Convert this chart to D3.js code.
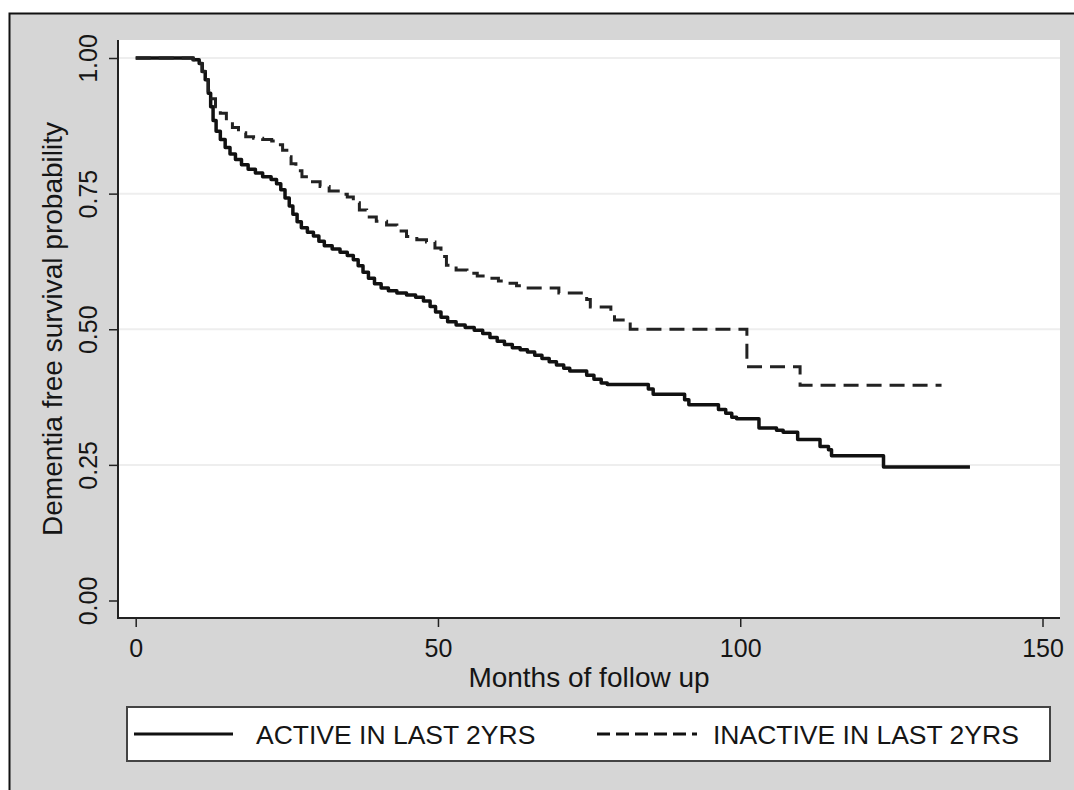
<!DOCTYPE html>
<meta charset="utf-8">
<style>
    body { margin: 0; background: #fff; }
    text { font-family: "Liberation Sans", Arial, Helvetica, sans-serif; fill: #151515; }
    .axis path { display: none; }
    .axis line { stroke: #222; stroke-width: 1.5; }
    .grid { stroke: #eeeeee; stroke-width: 2; }
</style>
<svg width="1074" height="790"></svg>
<script src="https://d3js.org/d3.v7.min.js"></script>
<script>

    // Kaplan-Meier step points: [month, survival]
    var active = [
        [0, 1.0], [9.5, 0.997], [10.5, 0.99], [11.0, 0.975], [11.5, 0.96], [12.0, 0.935],
        [12.4, 0.91], [12.8, 0.885], [13.3, 0.865], [14.0, 0.85], [14.8, 0.835], [15.6, 0.823],
        [16.5, 0.813], [17.5, 0.803], [18.6, 0.795], [19.8, 0.788], [21.0, 0.781], [22.4, 0.776],
        [23.3, 0.768], [24.0, 0.757], [24.7, 0.742], [25.4, 0.727], [26.0, 0.712], [26.7, 0.698],
        [27.4, 0.687], [28.4, 0.679], [29.4, 0.672], [30.3, 0.662], [31.2, 0.654], [32.5, 0.648],
        [33.8, 0.642], [35.0, 0.636], [36.0, 0.628], [36.8, 0.617], [37.6, 0.605], [38.5, 0.594],
        [39.5, 0.584], [40.6, 0.576], [41.8, 0.571], [43.2, 0.567], [44.8, 0.563], [46.3, 0.559],
        [47.6, 0.552], [48.7, 0.542], [49.6, 0.532], [50.5, 0.522], [51.6, 0.514], [53.0, 0.508],
        [54.5, 0.503], [56.0, 0.498], [57.4, 0.492], [58.6, 0.485], [59.8, 0.478], [61.0, 0.472],
        [62.3, 0.466], [63.6, 0.462], [64.8, 0.458], [66.0, 0.452], [67.2, 0.446], [68.4, 0.44],
        [69.6, 0.434], [70.8, 0.428], [71.8, 0.423], [74.6, 0.415], [75.8, 0.408], [77.0, 0.401],
        [78.0, 0.398], [84.8, 0.39], [85.6, 0.38], [90.8, 0.37], [91.5, 0.361], [96.4, 0.352],
        [97.6, 0.345], [98.6, 0.338], [99.4, 0.335], [103.1, 0.318], [106.0, 0.314], [107.1, 0.31],
        [109.5, 0.297], [113.2, 0.284], [114.6, 0.278], [115.1, 0.267], [123.7, 0.246], [138.0, 0.246]
    ];

    var inactive = [
        [0, 1.0], [9.5, 0.997], [10.5, 0.99], [11.0, 0.975], [11.5, 0.96], [12.0, 0.94],
        [12.5, 0.925], [13.2, 0.91], [14.0, 0.898], [15.0, 0.885], [16.0, 0.872], [17.0, 0.862],
        [18.2, 0.855], [19.5, 0.852], [21.0, 0.85], [22.5, 0.847], [23.5, 0.84], [24.3, 0.83],
        [25.0, 0.818], [25.7, 0.805], [26.5, 0.792], [27.5, 0.781], [28.8, 0.772], [30.5, 0.763],
        [32.0, 0.755], [33.5, 0.749], [35.0, 0.744], [36.0, 0.733], [37.0, 0.72], [38.2, 0.707],
        [39.8, 0.699], [41.5, 0.692], [43.2, 0.681], [44.8, 0.671], [46.5, 0.665], [48.1, 0.661],
        [49.5, 0.65], [50.5, 0.634], [51.4, 0.618], [53.0, 0.609], [54.8, 0.603], [56.5, 0.598],
        [58.1, 0.594], [60.0, 0.589], [61.4, 0.585], [63.0, 0.58], [64.5, 0.576], [70.0, 0.567],
        [74.6, 0.555], [75.2, 0.541], [78.6, 0.528], [79.2, 0.517], [81.8, 0.5], [101.1, 0.431],
        [109.9, 0.397], [133.3, 0.397]
    ];

    var xTicks = [0, 50, 100, 150],
        yTicks = [0, 0.25, 0.5, 0.75, 1],
        gridTicks = [0.25, 0.5, 0.75, 1];

    var seriesNames = ["ACTIVE IN LAST 2YRS", "INACTIVE IN LAST 2YRS"];

    var svg = d3.select("svg"),
        plot = {left: 119, right: 1060, top: 40, bottom: 617};

    var x = d3.scaleLinear().domain([0, 150]).range([135.7, 1042.5]),
        y = d3.scaleLinear().domain([0, 1]).range([600.5, 58]);

    // outer frame + grey background
    svg.append("rect")
        .attr("x", 9.5).attr("y", 13.5)
        .attr("width", 1100).attr("height", 800)
        .attr("fill", "#d6d6d6")
        .attr("stroke", "#111")
        .attr("stroke-width", 2);

    svg.append("rect")
        .attr("x", plot.left).attr("y", plot.top)
        .attr("width", plot.right - plot.left)
        .attr("height", plot.bottom - plot.top)
        .attr("fill", "#fff");

    svg.selectAll(".grid")
        .data(gridTicks)
        .enter().append("line")
        .attr("class", "grid")
        .attr("x1", plot.left).attr("x2", plot.right)
        .attr("y1", function(d) { return y(d); })
        .attr("y2", function(d) { return y(d); });

    // axis lines
    svg.append("line")
        .attr("x1", 118).attr("x2", 118)
        .attr("y1", plot.top).attr("y2", 618.5)
        .attr("stroke", "#222").attr("stroke-width", 2);
    svg.append("line")
        .attr("x1", 117).attr("x2", plot.right)
        .attr("y1", 618).attr("y2", 618)
        .attr("stroke", "#222").attr("stroke-width", 2);

    var yAxis = svg.append("g")
        .attr("class", "axis")
        .attr("transform", "translate(118,0)")
        .call(d3.axisLeft(y).tickValues(yTicks).tickFormat(d3.format(".2f")).tickSize(9).tickSizeOuter(0));
    yAxis.selectAll("text")
        .attr("x", null).attr("dy", null)
        .attr("text-anchor", "middle")
        .attr("transform", "translate(-21,0) rotate(-90)")
        .style("font-size", "25px")
        .attr("fill", "#151515");

    var xAxis = svg.append("g")
        .attr("class", "axis")
        .attr("transform", "translate(0,618)")
        .call(d3.axisBottom(x).tickValues(xTicks).tickSize(9).tickSizeOuter(0));
    xAxis.selectAll("text")
        .attr("y", 39).attr("dy", null)
        .style("font-size", "25px")
        .attr("fill", "#151515");

    // axis titles
    svg.append("text")
        .attr("text-anchor", "middle")
        .attr("transform", "translate(62,329) rotate(-90)")
        .style("font-size", "28px")
        .text("Dementia free survival probability");

    svg.append("text")
        .attr("x", 589).attr("y", 687)
        .attr("text-anchor", "middle")
        .style("font-size", "28px")
        .text("Months of follow up");

    // curves
    var line = d3.line()
        .x(function(d) { return x(d[0]); })
        .y(function(d) { return y(d[1]); })
        .curve(d3.curveStepAfter);

    svg.append("path")
        .datum(active)
        .attr("fill", "none")
        .attr("stroke", "#111")
        .attr("stroke-width", 3.5)
        .attr("stroke-linejoin", "round")
        .attr("d", line);

    svg.append("path")
        .datum(inactive)
        .attr("fill", "none")
        .attr("stroke", "#222")
        .attr("stroke-width", 3)
        .attr("stroke-dasharray", "15,8")
        .attr("d", line);

    // legend
    var legend = svg.append("g");
    legend.append("rect")
        .attr("x", 127).attr("y", 707)
        .attr("width", 923).attr("height", 54)
        .attr("fill", "#fff")
        .attr("stroke", "#444")
        .attr("stroke-width", 2);

    var legendItems = [
        {name: seriesNames[0], x0: 134, x1: 233, tx: 256, dash: null},
        {name: seriesNames[1], x0: 597, x1: 697, tx: 713, dash: "13,6"}
    ];

    legendItems.forEach(function(d) {
        legend.append("line")
            .attr("x1", d.x0).attr("x2", d.x1)
            .attr("y1", 734).attr("y2", 734)
            .attr("stroke", "#111")
            .attr("stroke-width", 3)
            .attr("stroke-dasharray", d.dash);
        legend.append("text")
            .attr("x", d.tx).attr("y", 744)
            .style("font-size", "26.5px")
            .text(d.name);
    });
</script>
